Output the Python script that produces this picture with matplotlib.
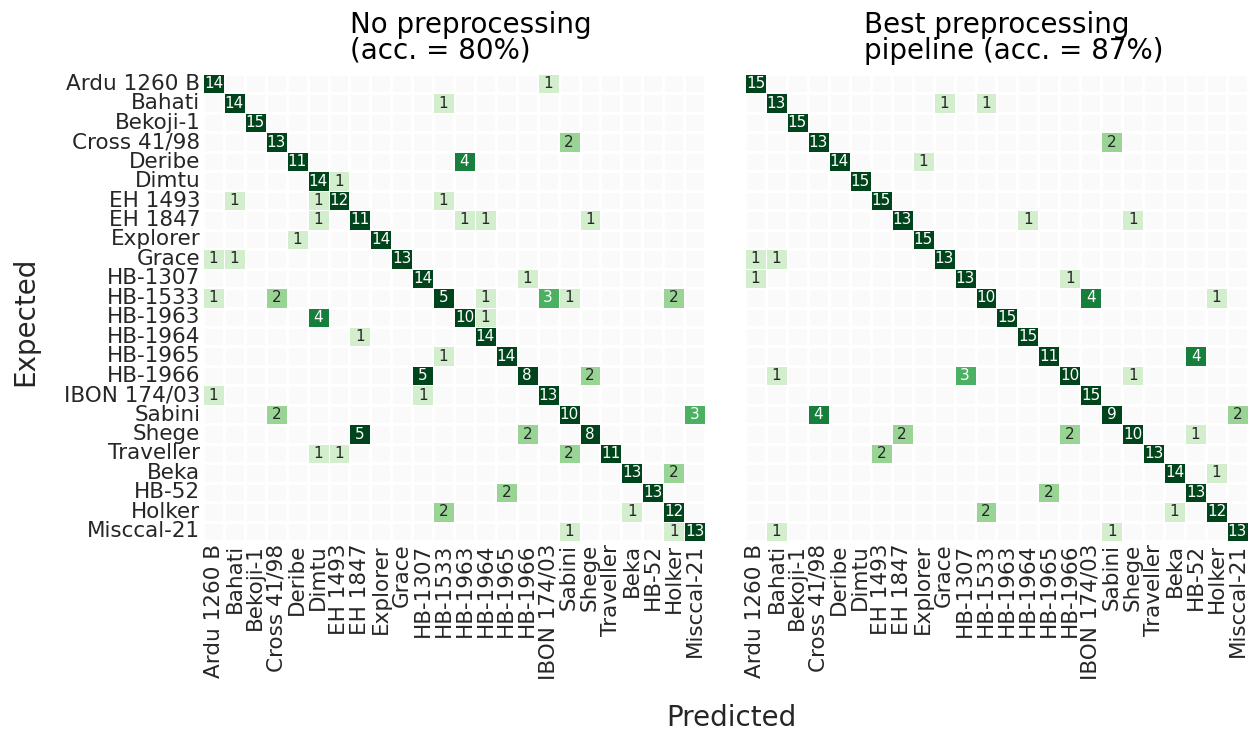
import matplotlib
matplotlib.use("Agg")
import matplotlib.pyplot as plt
import numpy as np
import seaborn as sns
from matplotlib.colors import ListedColormap

sns.set_style("white")
plt.rcParams['font.family'] = ['DejaVu Sans']

varieties = ["Ardu 1260 B", "Bahati", "Bekoji-1", "Cross 41/98", "Deribe", "Dimtu",
             "EH 1493", "EH 1847", "Explorer", "Grace", "HB-1307", "HB-1533",
             "HB-1963", "HB-1964", "HB-1965", "HB-1966", "IBON 174/03", "Sabini",
             "Shege", "Traveller", "Beka", "HB-52", "Holker", "Misccal-21"]

# confusion entries as (expected row, predicted col, count)
raw_entries = [
    (0, 0, 14), (0, 16, 1),
    (1, 1, 14), (1, 11, 1),
    (2, 2, 15),
    (3, 3, 13), (3, 17, 2),
    (4, 4, 11), (4, 12, 4),
    (5, 5, 14), (5, 6, 1),
    (6, 1, 1), (6, 5, 1), (6, 6, 12), (6, 11, 1),
    (7, 5, 1), (7, 7, 11), (7, 12, 1), (7, 13, 1), (7, 18, 1),
    (8, 4, 1), (8, 8, 14),
    (9, 0, 1), (9, 1, 1), (9, 9, 13),
    (10, 10, 14), (10, 15, 1),
    (11, 0, 1), (11, 3, 2), (11, 11, 5), (11, 13, 1), (11, 16, 3), (11, 17, 1), (11, 22, 2),
    (12, 5, 4), (12, 12, 10), (12, 13, 1),
    (13, 7, 1), (13, 13, 14),
    (14, 11, 1), (14, 14, 14),
    (15, 10, 5), (15, 15, 8), (15, 18, 2),
    (16, 0, 1), (16, 10, 1), (16, 16, 13),
    (17, 3, 2), (17, 17, 10), (17, 23, 3),
    (18, 7, 5), (18, 15, 2), (18, 18, 8),
    (19, 5, 1), (19, 6, 1), (19, 17, 2), (19, 19, 11),
    (20, 20, 13), (20, 22, 2),
    (21, 14, 2), (21, 21, 13),
    (22, 11, 2), (22, 20, 1), (22, 22, 12),
    (23, 17, 1), (23, 22, 1), (23, 23, 13),
]

best_entries = [
    (0, 0, 15),
    (1, 1, 13), (1, 9, 1), (1, 11, 1),
    (2, 2, 15),
    (3, 3, 13), (3, 17, 2),
    (4, 4, 14), (4, 8, 1),
    (5, 5, 15),
    (6, 6, 15),
    (7, 7, 13), (7, 13, 1), (7, 18, 1),
    (8, 8, 15),
    (9, 0, 1), (9, 1, 1), (9, 9, 13),
    (10, 0, 1), (10, 10, 13), (10, 15, 1),
    (11, 11, 10), (11, 16, 4), (11, 22, 1),
    (12, 12, 15),
    (13, 13, 15),
    (14, 14, 11), (14, 21, 4),
    (15, 1, 1), (15, 10, 3), (15, 15, 10), (15, 18, 1),
    (16, 16, 15),
    (17, 3, 4), (17, 17, 9), (17, 23, 2),
    (18, 7, 2), (18, 15, 2), (18, 18, 10), (18, 21, 1),
    (19, 6, 2), (19, 19, 13),
    (20, 20, 14), (20, 22, 1),
    (21, 14, 2), (21, 21, 13),
    (22, 11, 2), (22, 20, 1), (22, 22, 12),
    (23, 1, 1), (23, 17, 1), (23, 23, 13),
]

titles = ["No preprocessing\n(acc. = 80%)", "Best preprocessing\npipeline (acc. = 87%)"]


def to_matrix(entries):
    n = len(varieties)
    cm = np.zeros((n, n), dtype=int)
    for r, c, v in entries:
        cm[r, c] = v
    return cm


fig = plt.figure(figsize=(12.55, 7.38), dpi=100)
ax1 = fig.add_axes([0.1618, 0.2669, 0.4, 0.6328])
ax2 = fig.add_axes([0.5936, 0.2669, 0.4008, 0.6328])

for ax, entries, title, tx, show_y in [(ax1, raw_entries, titles[0], 0.293, True),
                                       (ax2, best_entries, titles[1], 0.237, False)]:
    cm = to_matrix(entries)
    # light grey grid for empty cells
    sns.heatmap(np.zeros_like(cm), ax=ax, cmap=ListedColormap(['#fafafa']), cbar=False,
                linewidths=1.0, linecolor='white', mask=cm != 0,
                xticklabels=varieties, yticklabels=varieties if show_y else False)
    sns.heatmap(cm, ax=ax, cmap='Greens', vmin=0, vmax=5, cbar=False, mask=cm == 0,
                annot=True, fmt='d', annot_kws={'fontsize': 11},
                linewidths=0.5, linecolor='white',
                xticklabels=varieties, yticklabels=varieties if show_y else False)
    ax.tick_params(length=0, labelsize=15.5, pad=2, colors='#262626')
    ax.set_xticklabels(varieties, rotation=90)
    if show_y:
        ax.set_yticklabels(varieties, rotation=0)
    ax.text(tx, 1.02, title, transform=ax.transAxes, ha='left', va='bottom',
            fontsize=20, color='black', linespacing=0.9)

fig.text(0.02, 0.565, "Expected", rotation=90, ha='center', va='center', fontsize=20)
fig.text(0.583, 0.027, "Predicted", ha='center', va='center', fontsize=20)

fig.savefig("out.png", dpi=100)
